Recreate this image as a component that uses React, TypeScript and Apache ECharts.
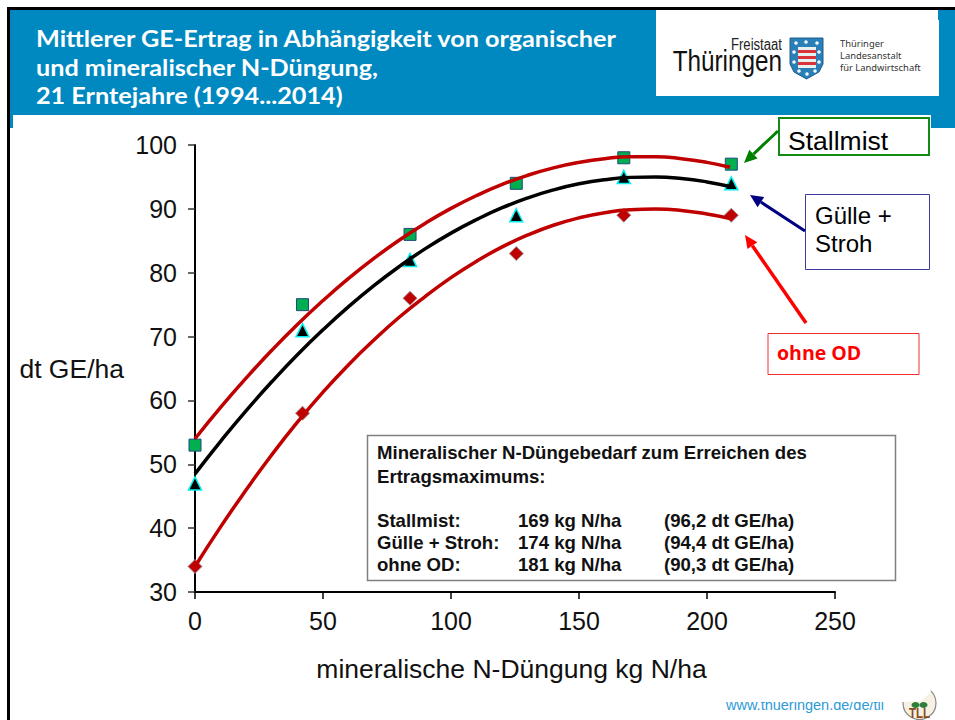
import React, { useEffect, useRef } from "react";
import * as echarts from "echarts";

const pointX = [0, 42, 84, 125.5, 167.5, 209.5];
const stallmistPoints = [53, 75, 86, 94, 98, 97];
const guellePoints = [47, 71, 82, 89, 95, 94];
const ohneOdPoints = [34, 58, 76, 83, 89, 89];

const curveX = [0, 10, 20, 30, 40, 50, 60, 70, 80, 90, 100, 110, 120, 130, 140, 150, 160, 170, 180, 190, 200, 209];
const stallmistCurve = [54, 58.91, 63.52, 67.85, 71.89, 75.64, 79.11, 82.28, 85.16, 87.76, 90.07, 92.09, 93.82, 95.26, 96.42, 97.28, 97.86, 98.15, 98.15, 97.86, 97.28, 96.51];
const guelleCurve = [48.5, 53.6, 58.42, 62.92, 67.15, 71.06, 74.68, 78.01, 81.03, 83.77, 86.2, 88.33, 90.18, 91.72, 92.97, 93.92, 94.57, 94.93, 94.99, 94.76, 94.22, 93.49];
const ohneOdCurve = [34, 40.2, 46, 51.5, 56.6, 61.3, 65.6, 69.5, 73.1, 76.3, 79.23, 81.81, 84.04, 85.91, 87.43, 88.59, 89.4, 89.86, 89.97, 89.75, 89.2, 88.5];

const titleLines = [
  "Mittlerer GE-Ertrag in Abhängigkeit von organischer",
  "und mineralischer N-Düngung,",
  "21 Erntejahre (1994...2014)",
];
const infoHead = ["Mineralischer N-Düngebedarf zum Erreichen des", "Ertragsmaximums:"];
const infoRows = [
  ["Stallmist:", "169 kg N/ha", "(96,2 dt GE/ha)"],
  ["Gülle + Stroh:", "174 kg N/ha", "(94,4 dt GE/ha)"],
  ["ohne OD:", "181 kg N/ha", "(90,3 dt GE/ha)"],
];

const zip = (xs: number[], ys: number[]) => xs.map((x, i) => [x, ys[i]]);
const ARIAL = "Liberation Sans";
const BLUE = "#0088c0";

function rect(x: number, y: number, w: number, h: number, fill: string, stroke?: string, lineWidth = 1, z = 5) {
  return { type: "rect", z, shape: { x, y, width: w, height: h }, style: { fill, stroke: stroke || "none", lineWidth } };
}
function text(t: string, x: number, y: number, size: number, fill = "#000", extra: any = {}, z = 8) {
  return {
    type: "text", z,
    style: { text: t, x, y, fill, fontSize: size, fontFamily: ARIAL, textVerticalAlign: "middle", ...extra },
  };
}
function squeezed(t: string, x: number, y: number, size: number, fill: string, sx: number, extra: any = {}) {
  return {
    type: "text", z: 8, x, y, scaleX: sx,
    style: { text: t, x: 0, y: 0, fill, fontSize: size, fontFamily: ARIAL, textVerticalAlign: "middle", ...extra },
  };
}
function arrow(x1: number, y1: number, x2: number, y2: number, color: string, lw = 3, head = 13, hw = 6) {
  const len = Math.hypot(x2 - x1, y2 - y1);
  const ux = (x2 - x1) / len, uy = (y2 - y1) / len;
  const bx = x2 - ux * head, by = y2 - uy * head;
  return [
    { type: "line", z: 6, shape: { x1, y1, x2: bx, y2: by }, style: { stroke: color, lineWidth: lw } },
    {
      type: "polygon", z: 6,
      shape: { points: [[x2, y2], [bx - uy * hw, by + ux * hw], [bx + uy * hw, by - ux * hw]] },
      style: { fill: color },
    },
  ];
}

export default function App() {
  const ref = useRef<HTMLDivElement>(null);
  useEffect(() => {
    const chart = echarts.init(ref.current!, null, { renderer: "svg" });
    const curve = (name: string, xs: number[], ys: number[], color: string) => ({
      name, type: "line", smooth: true, showSymbol: false, symbol: "none", z: 4, clip: false,
      data: zip(xs, ys), lineStyle: { color, width: 3.5 },
    });
    const marks = (name: string, ys: number[], symbol: string, size: number, color: string, border: string, bw: number) => ({
      name, type: "scatter", symbol, symbolSize: size, z: 3, clip: false,
      data: zip(pointX, ys), itemStyle: { color, borderColor: border, borderWidth: bw, opacity: 1 },
    });
    const infoY = [520, 542, 564];
    const infoX = [377, 518, 664];
    const shield = [[790, 38], [823, 38], [823, 64], [819, 72], [806.5, 79], [794, 72], [790, 64]];
    const dots = [[796, 43], [806, 42], [817, 43], [794, 52], [819, 52], [794, 62], [819, 62], [799, 71], [807, 74], [815, 71]];
    const graphic: any[] = [
      rect(7, 7, 948, 3, "#000"),
      rect(7, 10, 3, 710, "#000"),
      rect(10, 10, 945, 105, BLUE),
      rect(10, 115, 3, 13, BLUE),
      rect(931, 115, 24, 13, BLUE),
      rect(656, 10, 282, 12, "#fff"),
      rect(656, 20, 283, 76, "#fff"),
      ...titleLines.map((t, i) =>
        squeezed(t, 36, 38 + i * 28.5, 23.3, "#fff", 1.083, { fontFamily: "Lato", fontWeight: "bold" })),
      squeezed("Freistaat", 782, 45, 16, "#222", 0.82, { textAlign: "right" }),
      squeezed("Thüringen", 782, 61, 30, "#111", 0.81, { textAlign: "right" }),
      text("Thüringer", 840, 43, 9.4, "#333", { fontFamily: "Noto Sans" }),
      text("Landesanstalt", 840, 55, 9.4, "#333", { fontFamily: "Noto Sans" }),
      text("für Landwirtschaft", 840, 67, 9.4, "#333", { fontFamily: "Noto Sans" }),
      { type: "polygon", z: 6, shape: { points: shield }, style: { fill: "#2a7fb8", stroke: "#1c5f8c", lineWidth: 1 } },
      ...[47, 53, 59, 65].map((y) => rect(798, y, 18, 3, "#e8efef", undefined, 1, 7)),
      ...[50, 56, 62].map((y) => rect(798, y, 18, 3, "#d8323a", undefined, 1, 7)),
      ...dots.map(([cx, cy]) => ({ type: "circle", z: 7, shape: { cx, cy, r: 1.8 }, style: { fill: "#f2f6f8" } })),
      // Stallmist
      rect(779, 118, 150, 37, "#fff", "#138a13", 2),
      text("Stallmist", 788, 141, 26.5),
      ...arrow(778, 131, 744, 163, "#008000"),
      // Gülle + Stroh
      rect(805.5, 194.5, 124, 75, "#fff", "#3a3a9a", 1),
      text("Gülle +", 815, 215, 24),
      text("Stroh", 815, 243, 24),
      ...arrow(805, 231, 750, 195, "#000080"),
      // ohne OD
      rect(768, 333.5, 151, 41, "#fff", "#f03030", 1),
      text("ohne OD", 777, 352, 19.5, "#ff0000", { fontFamily: "Open Sans", fontWeight: "bold" }),
      ...arrow(806, 323, 745, 235, "#ff0000", 3.5),
      // info box
      rect(367.5, 435.5, 528, 145, "#fff", "#808080", 1.5),
      text(infoHead[0], infoX[0], 452, 18.6, "#111", { fontWeight: "bold" }),
      text(infoHead[1], infoX[0], 476, 18.6, "#111", { fontWeight: "bold" }),
      ...infoRows.flatMap((row, r) =>
        row.map((c, k) => text(c, infoX[k], infoY[r], 18.6, "#111", { fontWeight: "bold" }))),
      // footer
      text("www.thueringen.de/de/tll", 726, 705, 14.5, "#2e9ad6", {}, 5),
      { type: "circle", z: 5, shape: { cx: 919.5, cy: 703, r: 16.5 }, style: { fill: "#f6f1e2", stroke: "#888", lineWidth: 1.2 } },
      { type: "ellipse", z: 6, shape: { cx: 915.5, cy: 705, rx: 4, ry: 3 }, style: { fill: "#2f7d3a" } },
      { type: "ellipse", z: 6, shape: { cx: 923.5, cy: 705, rx: 4, ry: 3 }, style: { fill: "#2f7d3a" } },
      squeezed("TLL", 919.5, 713, 14, "#8a4a20", 0.82, { fontWeight: "bold", textAlign: "center" }),
      rect(700, 680, 190, 22, "#fff", undefined, 1, 7),
      { type: "polygon", z: 7, shape: { points: [[895, 680], [929, 680], [931, 692], [921, 701], [903, 702], [895, 702]] }, style: { fill: "#fff" } },
    ];
    chart.setOption({
      animation: false,
      backgroundColor: "#fff",
      legend: { show: false },
      grid: { left: 195, right: 120, top: 145, bottom: 128, containLabel: false },
      xAxis: {
        type: "value", min: 0, max: 250, interval: 50,
        name: "mineralische N-Düngung kg N/ha", nameLocation: "middle", nameGap: 63,
        nameTextStyle: { fontSize: 26.5, fontFamily: ARIAL, color: "#111", padding: [0, 7, 0, 0] },
        axisLine: { show: true, onZero: false, lineStyle: { color: "#000", width: 2 } },
        axisTick: { show: true, length: 7, lineStyle: { color: "#000", width: 1.5 } },
        axisLabel: { fontSize: 25, fontFamily: ARIAL, color: "#111", margin: 16 },
        splitLine: { show: false },
      },
      yAxis: {
        type: "value", min: 30, max: 100, interval: 10,
        name: "dt GE/ha", nameLocation: "middle", nameRotate: 0, nameGap: 71,
        nameTextStyle: { fontSize: 26.5, fontFamily: ARIAL, color: "#111", padding: [0, 0, 17, 0] },
        axisLine: { show: true, onZero: false, lineStyle: { color: "#000", width: 2 } },
        axisTick: { show: true, length: 7, lineStyle: { color: "#333", width: 1.5 } },
        axisLabel: { fontSize: 25, fontFamily: ARIAL, color: "#111", margin: 18 },
        splitLine: { show: false },
      },
      series: [
        marks("Stallmist", stallmistPoints, "rect", 12, "#00b050", "#1f497d", 1),
        marks("Gülle + Stroh", guellePoints, "triangle", 13, "#000", "#00f0f0", 1.5),
        marks("ohne OD", ohneOdPoints, "diamond", 14, "#c00000", "#a09090", 1),
        curve("Stallmist Trend", curveX, stallmistCurve, "#c00000"),
        curve("Gülle + Stroh Trend", curveX, guelleCurve, "#000"),
        curve("ohne OD Trend", curveX, ohneOdCurve, "#c00000"),
      ],
      graphic,
    });
    return () => chart.dispose();
  }, []);
  return <div ref={ref} style={{ position: "absolute", left: 0, top: 0, width: 955, height: 720, overflow: "hidden" }} />;
}
